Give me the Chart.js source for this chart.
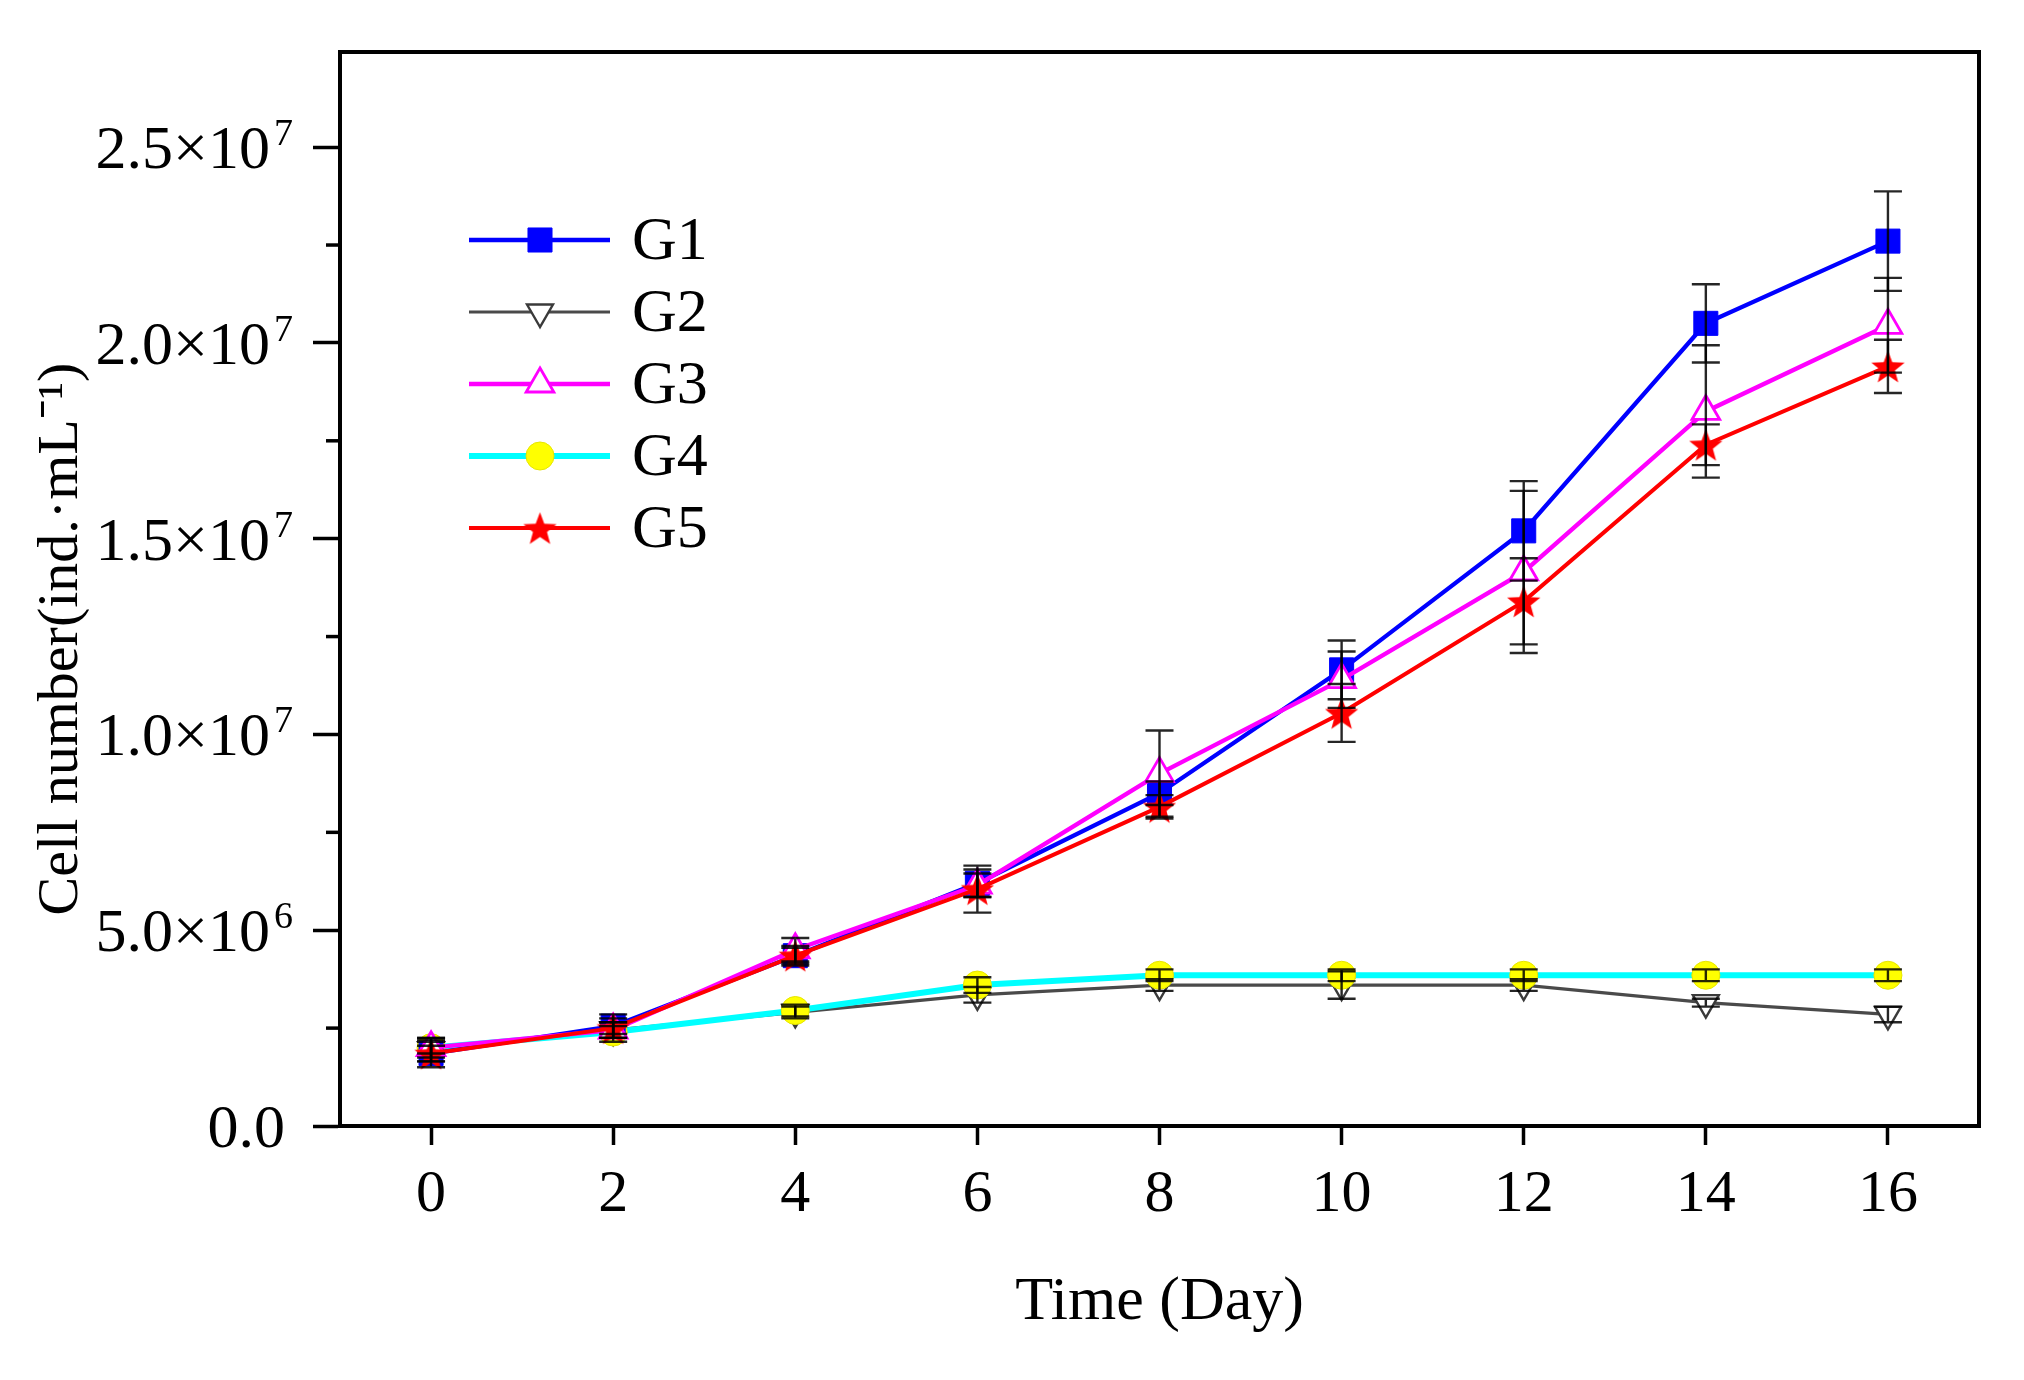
<!DOCTYPE html>
<html>
<head>
<meta charset="utf-8">
<script src="https://cdn.jsdelivr.net/npm/chart.js@4.4.1/dist/chart.umd.min.js"></script>
<style>
  html, body { margin: 0; padding: 0; background: #fff; }
  #wrap { width: 2024px; height: 1380px; position: relative; }
</style>
</head>
<body>
<div id="wrap"><canvas id="growthChart"></canvas></div>
<script>
// x values (days) and ticks
const days = [0, 2, 4, 6, 8, 10, 12, 14, 16];
const xTicks = [0, 2, 4, 6, 8, 10, 12, 14, 16];

// y ticks: mantissa text and power-of-ten exponent
const yTicks = [0, 5e6, 1e7, 1.5e7, 2e7, 2.5e7];
const yTickBase = ['0.0', '5.0×10', '1.0×10', '1.5×10', '2.0×10', '2.5×10'];
const yTickExp = ['', '6', '7', '7', '7', '7'];
const yMinorTicks = [2.5e6, 7.5e6, 1.25e7, 1.75e7, 2.25e7];

// cell numbers (ind./mL), with error bars
const g1 = [1.85e6, 2.55e6, 4.35e6, 6.2e6, 8.5e6, 11.65e6, 15.2e6, 20.5e6, 22.6e6];
const g1Err = [0.35e6, 0.2e6, 0.25e6, 0.35e6, 0.3e6, 0.75e6, 1.27e6, 1.0e6, 1.27e6];
const g2 = [1.95e6, 2.45e6, 2.9e6, 3.35e6, 3.6e6, 3.6e6, 3.6e6, 3.15e6, 2.85e6];
const g2Err = [0.3e6, 0.2e6, 0.15e6, 0.2e6, 0.15e6, 0.35e6, 0.15e6, 0.1e6, 0.2e6];
const g3 = [2.0e6, 2.45e6, 4.5e6, 6.15e6, 9.0e6, 11.4e6, 14.15e6, 18.25e6, 20.45e6];
const g3Err = [0.25e6, 0.2e6, 0.3e6, 0.3e6, 1.1e6, 0.72e6, 2.07e6, 1.69e6, 1.21e6];
const g4 = [2.0e6, 2.4e6, 2.95e6, 3.6e6, 3.85e6, 3.85e6, 3.85e6, 3.85e6, 3.85e6];
const g4Err = [0.15e6, 0.15e6, 0.15e6, 0.2e6, 0.15e6, 0.15e6, 0.15e6, 0.15e6, 0.15e6];
const g5 = [1.85e6, 2.5e6, 4.35e6, 6.05e6, 8.15e6, 10.55e6, 13.4e6, 17.4e6, 19.4e6];
const g5Err = [0.2e6, 0.35e6, 0.2e6, 0.6e6, 0.3e6, 0.74e6, 1.1e6, 0.52e6, 0.68e6];

const FONT = '"Liberation Serif", "Times New Roman", serif';

// filled five-point star used as G5 marker
function makeStar(size, color) {
    const c = document.createElement('canvas');
    c.width = c.height = size;
    const g = c.getContext('2d');
    const R = size / 2, r = R * 0.42;
    g.beginPath();
    for (let i = 0; i < 10; i++) {
        const a = -Math.PI / 2 + i * Math.PI / 5;
        const rr = i % 2 ? r : R;
        g.lineTo(size / 2 + rr * Math.cos(a), size / 2 + R * 0.1 + rr * Math.sin(a));
    }
    g.closePath();
    g.fillStyle = color;
    g.fill();
    return c;
}
const star = makeStar(35, '#ff0000');

const pts = vals => days.map((d, i) => ({ x: d, y: vals[i] }));

const datasets = [
    { label: 'G1', data: pts(g1), err: g1Err, borderColor: '#0000ff', borderWidth: 4.3,
      pointStyle: 'rect', pointRadius: 17, pointBackgroundColor: '#0000ff', pointBorderColor: '#0000ff', pointBorderWidth: 1, order: 3 },
    { label: 'G2', data: pts(g2), err: g2Err, borderColor: '#4a4a4a', borderWidth: 3.2,
      pointStyle: 'triangle', pointRotation: 180, pointRadius: 15, pointBackgroundColor: '#ffffff', pointBorderColor: '#3a3a3a', pointBorderWidth: 2.4, order: 5 },
    { label: 'G3', data: pts(g3), err: g3Err, borderColor: '#ff00ff', borderWidth: 4.3,
      pointStyle: 'triangle', pointRadius: 16, pointBackgroundColor: '#ffffff', pointBorderColor: '#ff00ff', pointBorderWidth: 2.8, order: 2 },
    { label: 'G4', data: pts(g4), err: g4Err, borderColor: '#00ffff', borderWidth: 6,
      pointStyle: 'circle', pointRadius: 14, pointBackgroundColor: '#ffff00', pointBorderColor: '#e6e600', pointBorderWidth: 1, order: 4 },
    { label: 'G5', data: pts(g5), err: g5Err, borderColor: '#ff0000', borderWidth: 4,
      pointStyle: star, pointRadius: 17, pointBackgroundColor: '#ff0000', pointBorderColor: '#ff0000', pointBorderWidth: 0, order: 1 }
];

// error bars drawn on top of the markers
const errorBars = {
    id: 'errorBars',
    afterDatasetsDraw(chart) {
        const { ctx, scales: { x, y } } = chart;
        ctx.save();
        ctx.strokeStyle = 'rgba(0,0,0,0.85)';
        ctx.lineWidth = 2.4;
        chart.data.datasets.forEach(ds => {
            ds.data.forEach((p, i) => {
                const px = x.getPixelForValue(p.x);
                const top = y.getPixelForValue(p.y + ds.err[i]);
                const bot = y.getPixelForValue(p.y - ds.err[i]);
                ctx.beginPath();
                ctx.moveTo(px, top); ctx.lineTo(px, bot);
                ctx.moveTo(px - 14, top); ctx.lineTo(px + 14, top);
                ctx.moveTo(px - 14, bot); ctx.lineTo(px + 14, bot);
                ctx.stroke();
            });
        });
        ctx.restore();
    }
};

// box around the plot, minor y ticks, y labels with superscripts, y title and the inset legend
const decorations = {
    id: 'decorations',
    afterDraw(chart) {
        const { ctx, chartArea: a, scales: { y } } = chart;
        ctx.save();
        ctx.strokeStyle = '#000';
        ctx.lineWidth = 4;
        ctx.strokeRect(a.left, a.top, a.right - a.left, a.bottom - a.top);

        ctx.lineWidth = 3.5;
        yMinorTicks.forEach(v => {
            const py = y.getPixelForValue(v);
            ctx.beginPath();
            ctx.moveTo(a.left - 14, py);
            ctx.lineTo(a.left, py);
            ctx.stroke();
        });

        // y tick labels, exponent as a raised smaller number
        ctx.fillStyle = '#000';
        ctx.textAlign = 'right';
        ctx.textBaseline = 'alphabetic';
        const xr = a.left - 47;
        yTicks.forEach((v, i) => {
            const py = y.getPixelForValue(v);
            let x = xr;
            if (yTickExp[i]) {
                ctx.font = '38px ' + FONT;
                ctx.fillText(yTickExp[i], x, py - 2);
                x -= ctx.measureText(yTickExp[i]).width + 4;
            } else {
                x = xr - 8;
            }
            ctx.font = '62px ' + FONT;
            ctx.fillText(yTickBase[i], x, py + 21);
        });

        ctx.font = '58px ' + FONT;
        ctx.textAlign = 'center';
        ctx.textBaseline = 'middle';
        ctx.translate(62, (a.top + a.bottom) / 2 + 50);
        ctx.rotate(-Math.PI / 2);
        ctx.fillText('Cell number(ind.·mL⁻¹)', 0, 0);
        ctx.restore();

        // legend
        ctx.save();
        const lx0 = a.left + 129, lx1 = a.left + 270, mx = a.left + 200;
        chart.data.datasets.forEach((ds, i) => {
            const ly = a.top + 188 + i * 72;
            ctx.strokeStyle = ds.borderColor;
            ctx.lineWidth = ds.borderWidth;
            ctx.beginPath();
            ctx.moveTo(lx0, ly); ctx.lineTo(lx1, ly);
            ctx.stroke();
            ctx.fillStyle = ds.pointBackgroundColor;
            ctx.strokeStyle = ds.pointBorderColor;
            ctx.lineWidth = ds.pointBorderWidth;
            Chart.helpers.drawPoint(ctx, {
                pointStyle: ds.pointStyle, radius: ds.pointRadius,
                rotation: ds.pointRotation || 0, borderWidth: ds.pointBorderWidth
            }, mx, ly);
            ctx.fillStyle = '#000';
            ctx.font = '62px ' + FONT;
            ctx.textAlign = 'left';
            ctx.textBaseline = 'middle';
            ctx.fillText(ds.label, lx1 + 22, ly + 3);
        });
        ctx.restore();
    }
};

const ctx = document.getElementById('growthChart').getContext('2d');
const growthChart = new Chart(ctx, {
    type: 'line',
    data: { datasets },
    options: {
        responsive: true,
        maintainAspectRatio: false,
        devicePixelRatio: 1,
        animation: false,
        layout: { padding: { top: 52, right: 45, left: 0, bottom: 0 } },
        plugins: { legend: { display: false }, tooltip: { enabled: false } },
        scales: {
            x: {
                type: 'linear', min: -1, max: 17,
                afterBuildTicks: s => { s.ticks = xTicks.map(v => ({ value: v })); },
                afterFit: s => { s.height = 254; },
                grid: { drawOnChartArea: false, tickLength: 19, tickWidth: 3.5, tickColor: '#000' },
                border: { width: 4, color: '#000' },
                ticks: { font: { family: FONT, size: 60 }, color: '#000', padding: 14, maxRotation: 0 },
                title: { display: true, text: 'Time (Day)', font: { family: FONT, size: 62 }, color: '#000', padding: { top: 0, bottom: 40 } }
            },
            y: {
                type: 'linear', min: 0, max: 2.743e7,
                afterBuildTicks: s => { s.ticks = yTicks.map(v => ({ value: v })); },
                afterFit: s => { s.width = 340; },
                grid: { drawOnChartArea: false, tickLength: 27, tickWidth: 3.5, tickColor: '#000' },
                border: { width: 4, color: '#000' },
                ticks: { display: false }
            }
        }
    },
    plugins: [errorBars, decorations]
});
</script>
</body>
</html>
